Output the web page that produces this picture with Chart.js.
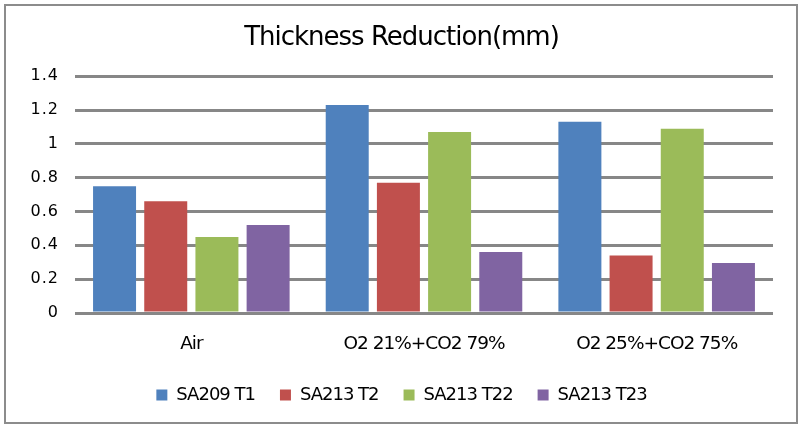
<!DOCTYPE html>
<html><head><meta charset="utf-8">
<script src="https://cdn.jsdelivr.net/npm/chart.js@4.4.0/dist/chart.umd.min.js"></script>
<style>
html,body{margin:0;padding:0;background:#fff;}
#wrap{position:relative;width:803px;height:428px;}
#frame{position:absolute;left:4px;top:4px;width:790px;height:416px;border:2px solid #8c8c8c;box-sizing:content-box;pointer-events:none;}
canvas{position:absolute;left:0;top:0;}
</style></head>
<body>
<div id="wrap"><canvas id="c" width="803" height="428"></canvas><div id="frame"></div></div>
<script>
const categories = ["Air", "O2 21%+CO2 79%", "O2 25%+CO2 75%"];
const seriesNames = ["SA209 T1", "SA213 T2", "SA213 T22", "SA213 T23"];
const sa209T1  = [0.75, 1.23, 1.13];
const sa213T2  = [0.66, 0.77, 0.34];
const sa213T22 = [0.45, 1.07, 1.09];
const sa213T23 = [0.52, 0.36, 0.295];
const yTicks = [0, 0.2, 0.4, 0.6, 0.8, 1, 1.2, 1.4];
const colors = ["#4f81bd", "#c0504d", "#9bbb59", "#8064a2"];

const FONT = "'DejaVu Sans',sans-serif";
const values = [sa209T1, sa213T2, sa213T22, sa213T23];

const spacing = {
  id: 'spacing',
  beforeLayout(chart) { chart.ctx.letterSpacing = '-1px'; },
  beforeDraw(chart) { chart.ctx.letterSpacing = '-1px'; }
};

new Chart(document.getElementById('c'), {
  type: 'bar',
  plugins: [spacing],
  data: {
    labels: categories,
    datasets: values.map((v, i) => ({
      label: seriesNames[i],
      data: v,
      backgroundColor: colors[i],
      borderWidth: 0,
      categoryPercentage: 0.88,
      barPercentage: 0.84
    }))
  },
  options: {
    responsive: false,
    animation: false,
    devicePixelRatio: 1,
    layout: { padding: { left: 0, right: 0, top: 14, bottom: 14 } },
    plugins: {
      title: {
        display: true,
        text: 'Thickness Reduction(mm)',
        color: '#000',
        font: { family: FONT, size: 26, weight: 'normal' },
        padding: { top: 9, bottom: 22 }
      },
      legend: {
        position: 'bottom',
        labels: {
          color: '#000',
          font: { family: FONT, size: 18 },
          boxWidth: 11, boxHeight: 11,
          padding: 25
        }
      },
      tooltip: { enabled: false }
    },
    scales: {
      x: {
        grid: { display: false },
        border: { display: false },
        afterFit: (s) => { s.height = 48; },
        ticks: { color: '#000', font: { family: FONT, size: 18.5 }, padding: 12, maxRotation: 0 }
      },
      y: {
        min: 0, max: 1.4,
        afterBuildTicks: (s) => { s.ticks = yTicks.map(v => ({ value: v })); },
        afterFit: (s) => {
          s.width = 75;
          if (!s._patched) {
            s._patched = true;
            const base = Object.getPrototypeOf(s).drawLabels;
            s.drawLabels = function (area) {
              const ctx = this.ctx;
              const old = ctx.letterSpacing;
              ctx.letterSpacing = '1px';
              base.call(this, area);
              ctx.letterSpacing = old;
            };
          }
        },
        grid: { color: '#878787', lineWidth: 3, drawTicks: false },
        border: { display: false },
        ticks: {
          color: '#000', font: { family: FONT, size: 16 }, padding: 16,
          callback: (v) => String(Math.round(v * 10) / 10)
        }
      },
      yRight: {
        position: 'right',
        display: true,
        min: 0, max: 1.4,
        afterFit: (s) => { s.width = 30; },
        grid: { display: false, drawTicks: false },
        border: { display: false },
        ticks: { display: false }
      }
    }
  }
});
</script>
</body></html>
